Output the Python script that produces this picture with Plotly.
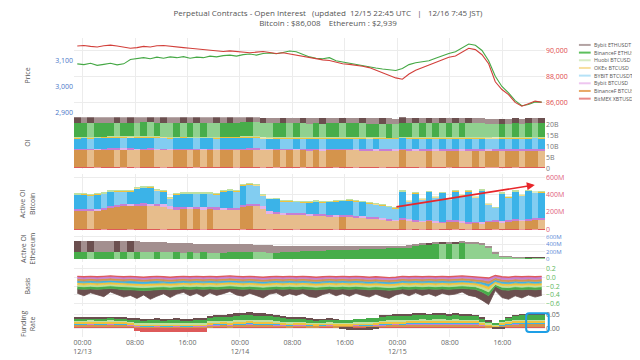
import pandas as pd
import plotly.graph_objects as go
from plotly.subplots import make_subplots

T_FIRST = "2025-12-12 23:12"
T_LAST = "2025-12-15 22:00"
X_RANGE = ["2025-12-12 22:42", "2025-12-15 22:30"]
TICK_VALS = ["2025-12-13 00:00", "2025-12-13 08:00", "2025-12-13 16:00",
             "2025-12-14 00:00", "2025-12-14 08:00", "2025-12-14 16:00",
             "2025-12-15 00:00", "2025-12-15 08:00", "2025-12-15 16:00"]
TICK_TEXT = ["00:00<br>12/13", "08:00", "16:00", "00:00<br>12/14", "08:00", "16:00",
             "00:00<br>12/15", "08:00", "16:00"]

EXCHANGES = ["BitMEX XBTUSD", "BinanceF BTCUSDT", "Bybit BTCUSD", "BYBIT BTCUSDT",
             "OKEx BTCUSD", "Huobi BTCUSD", "BinanceF ETHUSDT", "Bybit ETHUSDT"]

# ---------------- price (hourly) ----------------
btc_price = [90380, 90420, 90350, 90300, 90400, 90450, 90380, 90300, 90200, 90250,
             90350, 90300, 90400, 90420, 90380, 90300, 90250, 90200, 90150, 90100,
             90050, 90000, 89950, 90000, 89950, 89900, 89850, 89900, 89950, 89880,
             89800, 89850, 89750, 89700, 89600, 89500, 89400, 89300, 89250, 89100,
             89000, 88950, 88900, 88800, 88700, 88500, 88300, 88100, 87900, 87800,
             88200, 88500, 88700, 88900, 89100, 89300, 89500, 89600, 89900, 90200,
             90100, 89700, 89000, 87600, 87000, 86600, 86000, 85700, 85900, 86100,
             86008]
eth_price = [3088, 3085, 3090, 3082, 3086, 3090, 3084, 3088, 3105, 3110,
             3112, 3108, 3114, 3110, 3115, 3112, 3116, 3110, 3114, 3112,
             3118, 3115, 3120, 3122, 3118, 3124, 3126, 3122, 3128, 3130,
             3127, 3132, 3138, 3135, 3125, 3115, 3110, 3108, 3112, 3100,
             3095, 3090, 3085, 3082, 3075, 3072, 3068, 3065, 3062, 3070,
             3085, 3092, 3095, 3100, 3110, 3120, 3128, 3135, 3150, 3165,
             3160, 3140, 3100, 3040, 3000, 2975, 2945, 2925, 2930, 2940,
             2939]

# ---------------- open interest, billions USD (hourly) ----------------
oi_bitmex = [0.25, 0.25, 0.26, 0.25, 0.25, 0.26, 0.26, 0.25, 0.25, 0.24,
             0.24, 0.25, 0.25, 0.24, 0.24, 0.25, 0.25, 0.25, 0.24, 0.24,
             0.24, 0.24, 0.25, 0.25, 0.24, 0.24, 0.25, 0.25, 0.24, 0.24,
             0.23, 0.23, 0.24, 0.24, 0.23, 0.23, 0.23, 0.24, 0.24, 0.23,
             0.23, 0.23, 0.22, 0.22, 0.23, 0.23, 0.22, 0.22, 0.22, 0.23,
             0.23, 0.23, 0.22, 0.23, 0.23, 0.23, 0.22, 0.22, 0.23, 0.23,
             0.23, 0.23, 0.22, 0.21, 0.21, 0.22, 0.21, 0.21, 0.22, 0.22,
             0.22]
oi_binance_btc = [7.95, 8.00, 7.98, 8.02, 8.05, 8.10, 8.08, 8.12, 8.10, 8.06,
                  8.09, 8.11, 8.08, 8.04, 7.98, 8.01, 8.03, 8.00, 8.02, 7.99,
                  8.01, 7.97, 8.00, 8.03, 8.01, 8.08, 8.12, 8.09, 7.96, 7.90,
                  7.92, 7.89, 7.91, 7.88, 7.90, 7.87, 7.89, 7.86, 7.88, 7.90,
                  7.93, 7.91, 7.89, 7.86, 7.84, 7.80, 7.78, 7.75, 7.72, 7.90,
                  7.85, 7.80, 7.78, 7.82, 7.76, 7.74, 7.78, 7.80, 7.76, 7.72,
                  7.75, 7.70, 7.78, 7.82, 7.76, 7.80, 7.84, 7.81, 7.85, 7.88,
                  7.86]
oi_bybit_btcusd = [0.45, 0.45, 0.46, 0.45, 0.46, 0.46, 0.47, 0.46, 0.46, 0.45,
                   0.46, 0.46, 0.45, 0.45, 0.44, 0.45, 0.45, 0.45, 0.46, 0.45,
                   0.45, 0.44, 0.45, 0.45, 0.45, 0.46, 0.46, 0.46, 0.44, 0.43,
                   0.43, 0.43, 0.44, 0.43, 0.43, 0.43, 0.43, 0.42, 0.43, 0.43,
                   0.43, 0.43, 0.42, 0.42, 0.42, 0.41, 0.41, 0.41, 0.40, 0.42,
                   0.42, 0.41, 0.41, 0.42, 0.41, 0.41, 0.42, 0.42, 0.41, 0.41,
                   0.41, 0.41, 0.40, 0.40, 0.40, 0.41, 0.41, 0.41, 0.41, 0.42,
                   0.42]
oi_bybit_btcusdt = [4.85, 4.86, 4.84, 4.88, 4.90, 4.93, 4.95, 4.92, 4.94, 4.98,
                    5.00, 5.01, 4.96, 4.95, 4.85, 4.90, 4.91, 4.92, 4.90, 4.91,
                    4.92, 4.90, 4.96, 4.97, 4.97, 5.04, 5.05, 5.03, 4.88, 4.90,
                    4.91, 4.88, 4.87, 4.87, 4.86, 4.87, 4.88, 4.87, 4.89, 4.90,
                    4.91, 4.93, 4.92, 4.92, 4.90, 4.90, 4.88, 4.87, 4.86, 5.05,
                    4.95, 5.05, 4.99, 5.07, 5.01, 5.08, 4.98, 5.08, 5.03, 5.10,
                    5.02, 5.11, 4.93, 4.88, 5.06, 5.00, 5.06, 5.02, 5.07, 5.04,
                    5.05]
oi_okex = [0.38, 0.38, 0.38, 0.39, 0.39, 0.39, 0.39, 0.39, 0.38, 0.38,
           0.38, 0.39, 0.39, 0.38, 0.38, 0.38, 0.38, 0.38, 0.38, 0.38,
           0.38, 0.38, 0.38, 0.39, 0.39, 0.39, 0.39, 0.39, 0.38, 0.37,
           0.37, 0.37, 0.37, 0.37, 0.37, 0.37, 0.37, 0.37, 0.37, 0.37,
           0.37, 0.37, 0.37, 0.37, 0.36, 0.36, 0.36, 0.36, 0.36, 0.37,
           0.37, 0.37, 0.37, 0.37, 0.37, 0.37, 0.37, 0.37, 0.37, 0.37,
           0.37, 0.37, 0.36, 0.35, 0.35, 0.35, 0.35, 0.35, 0.35, 0.35,
           0.35]
oi_huobi = [0.15, 0.15, 0.15, 0.15, 0.15, 0.15, 0.15, 0.15, 0.15, 0.15,
            0.15, 0.15, 0.15, 0.15, 0.15, 0.15, 0.15, 0.15, 0.15, 0.15,
            0.15, 0.15, 0.15, 0.15, 0.15, 0.15, 0.15, 0.15, 0.14, 0.14,
            0.14, 0.14, 0.14, 0.14, 0.14, 0.14, 0.14, 0.14, 0.14, 0.14,
            0.14, 0.14, 0.14, 0.14, 0.14, 0.14, 0.14, 0.14, 0.14, 0.14,
            0.14, 0.14, 0.14, 0.14, 0.14, 0.14, 0.14, 0.14, 0.14, 0.14,
            0.14, 0.14, 0.14, 0.13, 0.13, 0.13, 0.13, 0.13, 0.13, 0.13,
            0.13]
oi_binance_eth = [6.20, 6.22, 6.18, 6.21, 6.25, 6.28, 6.24, 6.27, 6.30, 6.26,
                  6.29, 6.25, 6.28, 6.22, 6.18, 6.21, 6.17, 6.20, 6.16, 6.19,
                  6.18, 6.15, 6.17, 6.20, 6.22, 6.25, 6.27, 6.24, 6.21, 6.18,
                  6.20, 6.23, 6.21, 6.24, 6.22, 6.19, 6.21, 6.18, 6.20, 6.23,
                  6.21, 6.24, 6.26, 6.23, 6.25, 6.28, 6.26, 6.29, 6.27, 6.31,
                  6.33, 6.30, 6.34, 6.32, 6.35, 6.33, 6.36, 6.34, 6.37, 6.35,
                  6.33, 6.28, 6.20, 6.12, 6.15, 6.13, 6.16, 6.14, 6.17, 6.15,
                  6.16]
oi_bybit_eth = [2.75, 2.74, 2.76, 2.73, 2.72, 2.70, 2.72, 2.71, 2.73, 2.70,
                2.69, 2.71, 2.68, 2.70, 2.67, 2.66, 2.68, 2.65, 2.67, 2.64,
                2.63, 2.65, 2.62, 2.64, 2.61, 2.60, 2.62, 2.59, 2.61, 2.58,
                2.57, 2.59, 2.56, 2.55, 2.57, 2.54, 2.53, 2.55, 2.52, 2.51,
                2.53, 2.50, 2.49, 2.51, 2.48, 2.47, 2.49, 2.46, 2.45, 2.47,
                2.44, 2.46, 2.43, 2.45, 2.42, 2.44, 2.41, 2.43, 2.40, 2.42,
                2.40, 2.38, 2.36, 2.34, 2.36, 2.33, 2.35, 2.32, 2.34, 2.31,
                2.33]

# ---------------- active OI bitcoin, millions USD ----------------
act_bitmex = [4, 4, 4, 5, 4, 4, 4, 5, 4, 4,
              4, 4, 5, 4, 4, 4, 4, 4, 5, 4,
              4, 4, 4, 4, 5, 4, 4, 4, 4, 3,
              3, 3, 4, 3, 3, 3, 3, 3, 4, 3,
              3, 3, 3, 3, 3, 3, 3, 3, 3, 4,
              3, 4, 3, 4, 3, 3, 4, 3, 4, 3,
              3, 3, 3, 2, 3, 3, 4, 3, 4, 3,
              4]
act_binance_btc = [210, 212, 208, 215, 225, 245, 260, 265, 268, 270,
                   272, 270, 268, 262, 240, 232, 235, 233, 236, 230,
                   234, 232, 225, 222, 220, 258, 265, 262, 240, 185,
                   178, 172, 168, 166, 165, 160, 158, 155, 150, 148,
                   150, 145, 140, 135, 128, 120, 112, 105, 95, 110,
                   100, 90, 85, 95, 80, 75, 85, 90, 80, 70,
                   75, 65, 85, 95, 80, 90, 100, 95, 105, 110,
                   108]
act_bybit_btcusd = [22, 22, 23, 22, 23, 24, 24, 25, 24, 24,
                    25, 24, 24, 23, 22, 22, 23, 22, 23, 22,
                    22, 22, 21, 21, 21, 23, 24, 24, 22, 20,
                    20, 19, 19, 19, 19, 18, 18, 18, 18, 17,
                    17, 17, 17, 16, 16, 16, 15, 15, 14, 16,
                    15, 15, 14, 15, 14, 14, 15, 15, 14, 14,
                    14, 13, 14, 15, 14, 15, 16, 15, 16, 17,
                    17]
act_bybit_btcusdt = [164, 167, 162, 165, 159, 161, 149, 141, 145, 174,
                     180, 184, 151, 152, 94, 147, 149, 153, 146, 154,
                     152, 147, 189, 197, 196, 226, 224, 217, 124, 144,
                     151, 132, 131, 130, 129, 134, 141, 137, 146, 156,
                     159, 169, 164, 164, 156, 154, 147, 139, 134, 304,
                     204, 304, 249, 319, 274, 329, 239, 329, 294, 354,
                     279, 364, 189, 139, 314, 264, 314, 279, 319, 294,
                     301]
act_okex = [8, 8, 8, 9, 9, 9, 9, 9, 9, 8,
            8, 9, 8, 8, 7, 8, 8, 8, 8, 8,
            8, 8, 8, 9, 9, 10, 10, 9, 8, 7,
            7, 7, 7, 7, 7, 7, 7, 7, 7, 7,
            7, 7, 7, 7, 7, 6, 6, 6, 6, 8,
            7, 8, 7, 8, 7, 8, 7, 8, 7, 8,
            7, 8, 6, 5, 7, 7, 8, 7, 8, 7,
            8]
act_huobi = [3, 3, 3, 3, 3, 3, 3, 3, 3, 3,
             3, 3, 3, 3, 3, 3, 3, 3, 3, 3,
             3, 3, 3, 3, 3, 3, 3, 3, 3, 2,
             2, 2, 2, 2, 2, 2, 2, 2, 2, 2,
             2, 2, 2, 2, 2, 2, 2, 2, 2, 3,
             2, 3, 2, 3, 2, 3, 2, 3, 2, 3,
             2, 3, 2, 2, 3, 2, 3, 2, 3, 2,
             3]

# ---------------- active OI ethereum, millions USD ----------------
act_binance_eth = [180, 185, 178, 182, 186, 190, 184, 188, 182, 185,
                   180, 178, 182, 176, 172, 175, 170, 174, 168, 172,
                   170, 165, 168, 172, 175, 178, 180, 176, 172, 168,
                   170, 175, 180, 190, 200, 210, 215, 220, 230, 235,
                   240, 245, 250, 255, 260, 270, 275, 285, 290, 300,
                   320, 350, 380, 400, 420, 410, 430, 420, 440, 430,
                   420, 380, 300, 150, 60, 50, 40, 30, 35, 30,
                   28]
act_bybit_eth = [310, 305, 312, 300, 298, 290, 295, 292, 298, 290,
                 285, 280, 275, 270, 262, 255, 250, 245, 240, 238,
                 235, 230, 225, 222, 220, 218, 215, 212, 210, 200,
                 190, 180, 170, 160, 150, 140, 135, 130, 120, 115,
                 110, 105, 100, 95, 90, 85, 80, 75, 70, 60,
                 50, 45, 40, 40, 35, 45, 40, 50, 45, 40,
                 35, 30, 25, 15, 10, 8, 6, 5, 5, 5,
                 5]

# ---------------- basis, percent ----------------
basis_bitmex = [0.03, 0.02, 0.03, 0.02, 0.03, 0.04, 0.03, 0.02, 0.03, 0.02,
                0.01, 0.02, 0.03, 0.02, 0.01, 0.02, 0.03, 0.02, 0.03, 0.02,
                0.03, 0.02, 0.03, 0.04, 0.03, 0.02, 0.03, 0.02, 0.01, 0.02,
                0.03, 0.02, 0.03, 0.02, 0.03, 0.02, 0.01, 0.02, 0.03, 0.02,
                0.03, 0.02, 0.03, 0.02, 0.01, 0.02, 0.01, 0.00, 0.01, 0.03,
                0.02, 0.03, 0.02, 0.03, 0.02, 0.03, 0.02, 0.03, 0.04, 0.03,
                0.02, 0.01, -0.01, 0.05, 0.02, 0.01, 0.03, 0.02, 0.03, 0.02,
                0.03]
basis_bybit_btcusd = [-0.02, -0.03, -0.02, -0.03, -0.02, -0.01, -0.02, -0.03, -0.02, -0.03,
                      -0.04, -0.03, -0.02, -0.03, -0.04, -0.03, -0.02, -0.03, -0.02, -0.03,
                      -0.02, -0.03, -0.02, -0.01, -0.02, -0.03, -0.02, -0.03, -0.04, -0.03,
                      -0.02, -0.03, -0.02, -0.03, -0.02, -0.03, -0.04, -0.03, -0.02, -0.03,
                      -0.02, -0.03, -0.02, -0.03, -0.04, -0.03, -0.04, -0.05, -0.04, -0.02,
                      -0.03, -0.02, -0.03, -0.02, -0.03, -0.02, -0.03, -0.02, -0.01, -0.02,
                      -0.03, -0.05, -0.08, 0.00, -0.04, -0.05, -0.03, -0.04, -0.03, -0.04,
                      -0.03]
basis_binance_btc = [-0.07, -0.08, -0.07, -0.08, -0.07, -0.06, -0.07, -0.08, -0.07, -0.08,
                     -0.09, -0.08, -0.07, -0.08, -0.09, -0.08, -0.07, -0.08, -0.07, -0.08,
                     -0.07, -0.08, -0.07, -0.06, -0.07, -0.08, -0.07, -0.08, -0.09, -0.08,
                     -0.07, -0.08, -0.07, -0.08, -0.07, -0.08, -0.09, -0.08, -0.07, -0.08,
                     -0.07, -0.08, -0.07, -0.08, -0.09, -0.08, -0.09, -0.10, -0.09, -0.07,
                     -0.08, -0.07, -0.08, -0.07, -0.08, -0.07, -0.08, -0.07, -0.06, -0.07,
                     -0.08, -0.10, -0.14, -0.05, -0.09, -0.10, -0.08, -0.09, -0.08, -0.09,
                     -0.08]
basis_bybit_btcusdt = [-0.11, -0.12, -0.11, -0.12, -0.11, -0.10, -0.11, -0.12, -0.12, -0.13,
                       -0.14, -0.13, -0.12, -0.12, -0.13, -0.12, -0.11, -0.12, -0.11, -0.12,
                       -0.11, -0.12, -0.11, -0.10, -0.11, -0.12, -0.11, -0.12, -0.13, -0.12,
                       -0.11, -0.12, -0.11, -0.12, -0.11, -0.12, -0.13, -0.12, -0.11, -0.12,
                       -0.11, -0.12, -0.11, -0.12, -0.13, -0.12, -0.13, -0.14, -0.13, -0.11,
                       -0.12, -0.11, -0.12, -0.11, -0.12, -0.11, -0.12, -0.11, -0.10, -0.11,
                       -0.12, -0.15, -0.20, -0.09, -0.13, -0.14, -0.12, -0.13, -0.12, -0.13,
                       -0.12]
basis_okex = [-0.16, -0.17, -0.16, -0.17, -0.16, -0.15, -0.16, -0.17, -0.17, -0.18,
              -0.19, -0.18, -0.17, -0.17, -0.18, -0.17, -0.16, -0.17, -0.16, -0.17,
              -0.16, -0.17, -0.16, -0.15, -0.16, -0.17, -0.16, -0.17, -0.18, -0.17,
              -0.16, -0.17, -0.16, -0.17, -0.16, -0.17, -0.18, -0.17, -0.16, -0.17,
              -0.16, -0.17, -0.16, -0.17, -0.18, -0.17, -0.18, -0.19, -0.18, -0.16,
              -0.17, -0.16, -0.17, -0.16, -0.17, -0.16, -0.17, -0.16, -0.15, -0.16,
              -0.17, -0.21, -0.27, -0.13, -0.18, -0.19, -0.17, -0.18, -0.17, -0.18,
              -0.17]
basis_huobi = [-0.20, -0.21, -0.20, -0.21, -0.20, -0.19, -0.20, -0.21, -0.21, -0.22,
               -0.23, -0.22, -0.21, -0.21, -0.22, -0.21, -0.20, -0.21, -0.20, -0.21,
               -0.20, -0.21, -0.20, -0.19, -0.20, -0.21, -0.20, -0.21, -0.22, -0.21,
               -0.20, -0.21, -0.20, -0.21, -0.20, -0.21, -0.22, -0.21, -0.20, -0.21,
               -0.20, -0.21, -0.20, -0.21, -0.22, -0.21, -0.22, -0.23, -0.22, -0.20,
               -0.21, -0.20, -0.21, -0.20, -0.21, -0.20, -0.21, -0.20, -0.19, -0.20,
               -0.21, -0.26, -0.33, -0.16, -0.22, -0.23, -0.21, -0.22, -0.21, -0.22,
               -0.21]
basis_binance_eth = [-0.26, -0.27, -0.26, -0.27, -0.26, -0.25, -0.26, -0.28, -0.28, -0.29,
                     -0.30, -0.29, -0.28, -0.27, -0.28, -0.27, -0.26, -0.27, -0.26, -0.27,
                     -0.26, -0.27, -0.26, -0.25, -0.26, -0.27, -0.26, -0.27, -0.28, -0.27,
                     -0.26, -0.27, -0.26, -0.27, -0.26, -0.27, -0.28, -0.27, -0.26, -0.27,
                     -0.26, -0.27, -0.26, -0.27, -0.28, -0.27, -0.28, -0.29, -0.28, -0.26,
                     -0.27, -0.26, -0.27, -0.26, -0.27, -0.26, -0.27, -0.26, -0.25, -0.26,
                     -0.27, -0.33, -0.42, -0.20, -0.28, -0.29, -0.27, -0.28, -0.27, -0.28,
                     -0.27]
basis_bybit_eth = [-0.36, -0.42, -0.35, -0.40, -0.44, -0.33, -0.39, -0.45, -0.41, -0.48,
                   -0.40, -0.50, -0.43, -0.37, -0.46, -0.38, -0.34, -0.42, -0.36, -0.44,
                   -0.35, -0.41, -0.37, -0.32, -0.40, -0.43, -0.36, -0.42, -0.47, -0.38,
                   -0.35, -0.43, -0.37, -0.41, -0.36, -0.44, -0.46, -0.39, -0.35, -0.42,
                   -0.37, -0.43, -0.36, -0.41, -0.45, -0.38, -0.44, -0.48, -0.40, -0.36,
                   -0.42, -0.35, -0.41, -0.37, -0.43, -0.36, -0.40, -0.38, -0.33, -0.41,
                   -0.44, -0.52, -0.62, -0.30, -0.46, -0.50, -0.42, -0.47, -0.40, -0.45,
                   -0.41]

# ---------------- funding rate, percent ----------------
fund_bitmex = [0.005, 0.005, 0.005, 0.005, 0.005, 0.005, 0.005, 0.005, 0.004, -0.012,
               -0.014, -0.015, -0.016, -0.015, -0.016, -0.015, -0.014, -0.015, -0.014, -0.013,
               0.003, 0.004, 0.004, 0.003, 0.004, 0.004, 0.005, 0.004, 0.004, 0.005,
               0.004, 0.004, 0.003, 0.004, 0.004, 0.003, 0.003, 0.004, 0.004, 0.003,
               0.003, 0.003, 0.004, 0.004, 0.003, 0.004, 0.004, 0.005, 0.005, 0.004,
               0.004, 0.005, 0.005, 0.004, 0.005, 0.005, 0.004, 0.005, 0.005, 0.004,
               0.005, 0.004, 0.003, 0.002, 0.003, 0.004, 0.005, 0.005, 0.005, 0.005,
               0.005]
fund_bybit_btcusd = [0.006, 0.006, 0.007, 0.006, 0.006, 0.007, 0.006, 0.006, 0.005, 0.005,
                     0.004, 0.004, 0.005, 0.004, 0.004, 0.005, 0.004, 0.004, 0.005, 0.005,
                     0.006, 0.006, 0.007, 0.006, 0.007, 0.007, 0.008, 0.007, 0.007, 0.006,
                     0.006, 0.005, 0.005, 0.006, 0.005, 0.005, 0.004, 0.004, 0.005, 0.004,
                     0.004, 0.004, 0.005, 0.004, 0.005, 0.005, 0.006, 0.006, 0.007, 0.007,
                     0.008, 0.008, 0.009, 0.008, 0.009, 0.009, 0.008, 0.009, 0.008, 0.008,
                     0.007, 0.006, 0.004, 0.003, 0.006, 0.008, 0.009, 0.010, 0.010, 0.010,
                     0.010]
fund_binance_btc = [0.003, 0.003, 0.003, 0.003, 0.003, 0.003, 0.003, 0.003, 0.002, 0.002,
                    0.002, 0.002, 0.002, 0.002, 0.002, 0.002, 0.002, 0.002, 0.002, 0.002,
                    0.003, 0.003, 0.003, 0.003, 0.003, 0.003, 0.003, 0.003, 0.003, 0.003,
                    0.003, 0.002, 0.002, 0.002, 0.002, 0.002, 0.002, 0.002, 0.002, 0.002,
                    0.002, 0.002, 0.002, 0.002, 0.002, 0.002, 0.003, 0.003, 0.003, 0.003,
                    0.003, 0.003, 0.003, 0.003, 0.003, 0.003, 0.003, 0.003, 0.003, 0.003,
                    0.003, 0.002, 0.001, 0.001, 0.001, 0.001, 0.001, 0.001, 0.001, 0.001,
                    0.001]
fund_bybit_btcusdt = [0.002, 0.002, 0.002, 0.002, 0.002, 0.002, 0.002, 0.002, 0.002, 0.002,
                      0.001, 0.001, 0.001, 0.001, 0.001, 0.001, 0.001, 0.001, 0.001, 0.001,
                      0.002, 0.002, 0.002, 0.002, 0.002, 0.002, 0.002, 0.002, 0.002, 0.002,
                      0.002, 0.002, 0.001, 0.001, 0.001, 0.001, 0.001, 0.001, 0.001, 0.001,
                      0.001, 0.001, 0.001, 0.001, 0.001, 0.001, 0.002, 0.002, 0.002, 0.002,
                      0.002, 0.002, 0.002, 0.002, 0.002, 0.002, 0.002, 0.002, 0.002, 0.002,
                      0.002, 0.001, 0.001, 0.000, 0.001, 0.001, 0.001, 0.001, 0.001, 0.001,
                      0.001]
fund_okex = [0.006, 0.006, 0.006, 0.006, 0.006, 0.006, 0.006, 0.006, 0.005, 0.005,
             0.005, 0.005, 0.005, 0.005, 0.005, 0.005, 0.005, 0.005, 0.005, 0.005,
             0.006, 0.006, 0.006, 0.007, 0.007, 0.007, 0.007, 0.007, 0.007, 0.007,
             0.006, 0.006, 0.006, 0.006, 0.006, 0.005, 0.005, 0.005, 0.005, 0.005,
             0.005, 0.005, 0.005, 0.006, 0.006, 0.006, 0.007, 0.007, 0.007, 0.007,
             0.008, 0.008, 0.008, 0.008, 0.008, 0.008, 0.008, 0.008, 0.008, 0.008,
             0.008, 0.007, 0.005, 0.004, 0.007, 0.008, 0.009, 0.009, 0.010, 0.010,
             0.010]
fund_huobi = [0.004, 0.004, 0.004, 0.004, 0.004, 0.004, 0.004, 0.004, 0.004, 0.004,
              0.004, 0.004, 0.004, 0.004, 0.004, 0.004, 0.004, 0.004, 0.004, 0.004,
              0.004, 0.004, 0.004, 0.004, 0.004, 0.004, 0.004, 0.004, 0.004, 0.004,
              0.004, 0.004, 0.004, 0.003, 0.003, 0.003, 0.003, 0.003, 0.003, 0.003,
              0.003, 0.003, 0.003, 0.003, 0.003, 0.003, 0.004, 0.004, 0.004, 0.004,
              0.004, 0.004, 0.004, 0.004, 0.004, 0.004, 0.004, 0.004, 0.004, 0.004,
              0.004, 0.003, 0.002, 0.002, 0.002, 0.002, 0.002, 0.002, 0.002, 0.002,
              0.002]
fund_binance_eth = [0.008, 0.008, 0.008, 0.009, 0.009, 0.009, 0.009, 0.009, 0.010, 0.012,
                    0.012, 0.013, 0.013, 0.012, 0.013, 0.013, 0.012, 0.012, 0.013, 0.013,
                    0.015, 0.016, 0.016, 0.017, 0.017, 0.018, 0.018, 0.017, 0.017, 0.016,
                    0.015, 0.014, 0.013, 0.012, 0.012, 0.011, 0.010, 0.010, 0.010, 0.011,
                    0.011, 0.012, 0.012, 0.013, 0.014, 0.015, 0.016, 0.016, 0.017, 0.017,
                    0.017, 0.018, 0.018, 0.018, 0.018, 0.018, 0.017, 0.017, 0.016, 0.016,
                    0.015, 0.012, 0.008, 0.005, 0.010, 0.014, 0.017, 0.019, 0.020, 0.020,
                    0.020]
fund_bybit_eth = [0.002, 0.002, 0.002, 0.002, 0.002, 0.003, 0.003, 0.003, 0.003, 0.003,
                  0.003, 0.003, 0.003, 0.003, 0.003, 0.003, 0.003, 0.003, 0.003, 0.003,
                  0.004, 0.005, 0.006, 0.007, 0.008, 0.008, 0.009, 0.009, 0.008, 0.008,
                  0.008, 0.007, 0.007, 0.006, 0.006, 0.005, 0.004, 0.003, 0.003, 0.002,
                  -0.004, -0.006, -0.008, -0.008, -0.007, -0.005, 0.002, 0.002, 0.003, 0.003,
                  0.003, 0.003, 0.003, 0.003, 0.003, 0.003, 0.003, 0.003, 0.003, 0.003,
                  0.002, 0.002, 0.001, -0.003, -0.004, 0.001, 0.001, 0.001, 0.001, 0.001,
                  0.001]

# ---------------- styles ----------------
DARK = {"BitMEX XBTUSD": "#de5a5a", "BinanceF BTCUSDT": "#d4944c", "Bybit BTCUSD": "#c67fd4",
        "BYBIT BTCUSDT": "#3bb3e8", "OKEx BTCUSD": "#efc23e", "Huobi BTCUSD": "#bfe0a0",
        "BinanceF ETHUSDT": "#47ad4a", "Bybit ETHUSDT": "#6b4f4f"}
LIGHT = {"BitMEX XBTUSD": "#ec9a9a", "BinanceF BTCUSDT": "#e7bd8c", "Bybit BTCUSD": "#e2b2ea",
         "BYBIT BTCUSDT": "#82cdf1", "OKEx BTCUSD": "#f6dc8c", "Huobi BTCUSD": "#dcedc8",
         "BinanceF ETHUSDT": "#90d18f", "Bybit ETHUSDT": "#a38f8f"}
LEGEND_COL = {"Bybit ETHUSDT": "#b3a3a3", "BinanceF ETHUSDT": "#5cbf5c", "Huobi BTCUSD": "#d6ebc4",
              "OKEx BTCUSD": "#f7df9f", "BYBIT BTCUSDT": "#b5e2f7", "Bybit BTCUSD": "#eec6f0",
              "BinanceF BTCUSDT": "#e8a866", "BitMEX XBTUSD": "#e88a8a"}
LEGEND_ORDER = ["Bybit ETHUSDT", "BinanceF ETHUSDT", "Huobi BTCUSD", "OKEx BTCUSD",
                "BYBIT BTCUSDT", "Bybit BTCUSD", "BinanceF BTCUSDT", "BitMEX XBTUSD"]

times = pd.date_range(T_FIRST, T_LAST, periods=len(btc_price))


def tx(arr):
    return times[:len(arr)]


def shades(vals, name):
    out = [DARK[name]]
    for a, b in zip(vals[:-1], vals[1:]):
        out.append(DARK[name] if b >= a else LIGHT[name])
    return out


fig = make_subplots(rows=6, cols=1, shared_xaxes=True, vertical_spacing=0.01,
                    specs=[[{"secondary_y": True}], [{}], [{}], [{}], [{}], [{}]])

# price
fig.add_trace(go.Scatter(x=tx(eth_price), y=eth_price, mode="lines",
                         line=dict(color="#45a845", width=1.1)), row=1, col=1, secondary_y=False)
fig.add_trace(go.Scatter(x=tx(btc_price), y=btc_price, mode="lines",
                         line=dict(color="#d23f3a", width=1.1)), row=1, col=1, secondary_y=True)

# OI stacked
oi_series = [oi_bitmex, oi_binance_btc, oi_bybit_btcusd, oi_bybit_btcusdt,
             oi_okex, oi_huobi, oi_binance_eth, oi_bybit_eth]
for name, vals in zip(EXCHANGES, oi_series):
    fig.add_trace(go.Bar(x=tx(vals), y=vals, marker=dict(color=shades(vals, name), line=dict(width=0))),
                  row=2, col=1)

# active OI bitcoin
act_btc = [("BitMEX XBTUSD", act_bitmex), ("BinanceF BTCUSDT", act_binance_btc),
           ("Bybit BTCUSD", act_bybit_btcusd), ("BYBIT BTCUSDT", act_bybit_btcusdt),
           ("OKEx BTCUSD", act_okex), ("Huobi BTCUSD", act_huobi)]
for name, vals in act_btc:
    fig.add_trace(go.Bar(x=tx(vals), y=vals, marker=dict(color=shades(vals, name), line=dict(width=0))),
                  row=3, col=1)

# active OI ethereum
for name, vals in [("BinanceF ETHUSDT", act_binance_eth), ("Bybit ETHUSDT", act_bybit_eth)]:
    fig.add_trace(go.Bar(x=tx(vals), y=vals, marker=dict(color=shades(vals, name), line=dict(width=0))),
                  row=4, col=1)

# basis (top to bottom, each band filled up to the previous series)
basis = [("BitMEX XBTUSD", basis_bitmex), ("Bybit BTCUSD", basis_bybit_btcusd),
         ("BinanceF BTCUSDT", basis_binance_btc), ("BYBIT BTCUSDT", basis_bybit_btcusdt),
         ("OKEx BTCUSD", basis_okex), ("Huobi BTCUSD", basis_huobi),
         ("BinanceF ETHUSDT", basis_binance_eth), ("Bybit ETHUSDT", basis_bybit_eth)]
for i, (name, vals) in enumerate(basis):
    fig.add_trace(go.Scatter(x=tx(vals), y=vals, mode="lines",
                             line=dict(color=DARK[name], width=1.4 if i == 0 else 0.8),
                             fill=None if i == 0 else "tonexty", fillcolor=DARK[name]),
                  row=5, col=1)

# funding
funding = [fund_bitmex, fund_bybit_btcusd, fund_binance_btc, fund_bybit_btcusdt,
           fund_okex, fund_huobi, fund_binance_eth, fund_bybit_eth]
for name, vals in zip(EXCHANGES, funding):
    fig.add_trace(go.Bar(x=tx(vals), y=vals, marker=dict(color=DARK[name], line=dict(width=0))),
                  row=6, col=1)

GRID = "#ececec"

fig.update_xaxes(domain=[0, 1], range=X_RANGE, tickvals=TICK_VALS, ticktext=TICK_TEXT, showgrid=True,
                 gridcolor=GRID, zeroline=False, showline=False, tickfont=dict(size=7, color="#666"))
fig.update_xaxes(showticklabels=True, row=6, col=1)

fig.update_yaxes(showgrid=True, gridcolor=GRID, zeroline=False, showline=False)
fig.update_yaxes(row=1, col=1, secondary_y=False, domain=[0.745, 1.0], range=[2892, 3188.5],
                 tickvals=[2900, 3000, 3100], tickprefix="$", tickformat=",", showgrid=False,
                 tickfont=dict(size=7, color="#4a78c8"))
fig.update_yaxes(row=1, col=1, secondary_y=True, range=[85078, 91000], side="right",
                 tickvals=[86000, 88000, 90000], tickprefix="$", tickformat=",",
                 showgrid=True, gridcolor=GRID, tickfont=dict(size=7, color="#e04848"))
fig.update_yaxes(row=2, col=1, domain=[0.562, 0.735], range=[-0.4, 23.1], side="right",
                 tickvals=[0, 5, 10, 15, 20], ticktext=["0", "5B", "10B", "15B", "20B"],
                 tickfont=dict(size=7, color="#777"))
fig.update_yaxes(row=3, col=1, domain=[0.354, 0.546], range=[-22, 640], side="right",
                 tickvals=[0, 200, 400, 600], ticktext=["0", "200M", "400M", "600M"],
                 tickfont=dict(size=7, color="#e0607a"))
fig.update_yaxes(row=4, col=1, domain=[0.252, 0.341], range=[-80, 650], side="right",
                 tickvals=[0, 200, 400, 600], ticktext=["0", "200M", "400M", "600M"],
                 tickfont=dict(size=6, color="#5a86d6"))
fig.update_yaxes(row=5, col=1, domain=[0.103, 0.242], range=[-0.66, 0.30], side="right",
                 tickvals=[-0.6, -0.4, -0.2, 0.0, 0.2], tickformat=".1f", ticksuffix="%",
                 tickfont=dict(size=7, color="#5cb85c"))
fig.update_yaxes(row=6, col=1, domain=[0.0, 0.093], range=[-0.032, 0.068], side="right",
                 tickvals=[0.0, 0.05], tickformat=".2f", ticksuffix="%",
                 tickfont=dict(size=7, color="#666"))

# panel titles
PANEL_TITLES = [("Price", 0.874), ("OI", 0.649), ("Active OI<br>Bitcoin", 0.447),
                ("Active OI<br>Ethereum", 0.295), ("Basis", 0.172), ("Funding<br>Rate", 0.046)]
for txt, yy in PANEL_TITLES:
    fig.add_annotation(text=txt, x=-0.098, y=yy, xref="paper", yref="paper", showarrow=False,
                       textangle=-90, font=dict(size=7, color="#555"), xanchor="center", yanchor="middle")

# manual legend
for i, name in enumerate(LEGEND_ORDER):
    ypx = 37 + 7.75 * i
    yy = (332 - ypx) / 302
    fig.add_shape(type="line", xref="paper", yref="paper", x0=1.072, x1=1.097, y0=yy, y1=yy,
                  line=dict(color=LEGEND_COL[name], width=2))
    fig.add_annotation(text=name, x=1.100, y=yy, xref="paper", yref="paper", showarrow=False,
                       xanchor="left", yanchor="middle", font=dict(size=5.3, color="#555"))

# red trend arrow on the Active OI Bitcoin panel
ax_x = fig.get_subplot(3, 1).xaxis.plotly_name.replace("axis", "")
ax_y = fig.get_subplot(3, 1).yaxis.plotly_name.replace("axis", "")
ARROW_HEAD = ("2025-12-15 20:57", 511)
ARROW_TAIL = ("2025-12-14 23:37", 255)
fig.add_annotation(x=ARROW_HEAD[0], y=ARROW_HEAD[1], ax=ARROW_TAIL[0], ay=ARROW_TAIL[1],
                   xref=ax_x, yref=ax_y, axref=ax_x, ayref=ax_y, text="", showarrow=True,
                   arrowhead=2, arrowsize=1, arrowwidth=1.6, arrowcolor="#e8262a")

# blue highlight box on the funding panel (paper coords)
x0, x1, y0, y1 = 0.960, 1.008, 0.0166, 0.0795
rx, ry = 0.0064, 0.0099
path = (f"M {x0+rx},{y0} L {x1-rx},{y0} Q {x1},{y0} {x1},{y0+ry} L {x1},{y1-ry} "
        f"Q {x1},{y1} {x1-rx},{y1} L {x0+rx},{y1} Q {x0},{y1} {x0},{y1-ry} "
        f"L {x0},{y0+ry} Q {x0},{y0} {x0+rx},{y0} Z")
fig.add_shape(type="path", path=path, xref="paper", yref="paper",
              line=dict(color="#1e9fe6", width=2))

fig.update_layout(
    width=640, height=360, barmode="relative", bargap=0, showlegend=False,
    paper_bgcolor="white", plot_bgcolor="white",
    margin=dict(l=66, r=103, t=30, b=28),
    title=dict(text="Perpetual Contracts - Open Interest   (updated  12/15 22:45 UTC   |   12/16 7:45 JST)"
                    "<br>Bitcoin : $86,008    Ethereum : $2,939",
               x=0.5, xanchor="center", y=0.978, yanchor="top", font=dict(size=8, color="#555")),
    font=dict(family="Open Sans, DejaVu Sans, sans-serif"),
)

fig.write_html("out.html")
